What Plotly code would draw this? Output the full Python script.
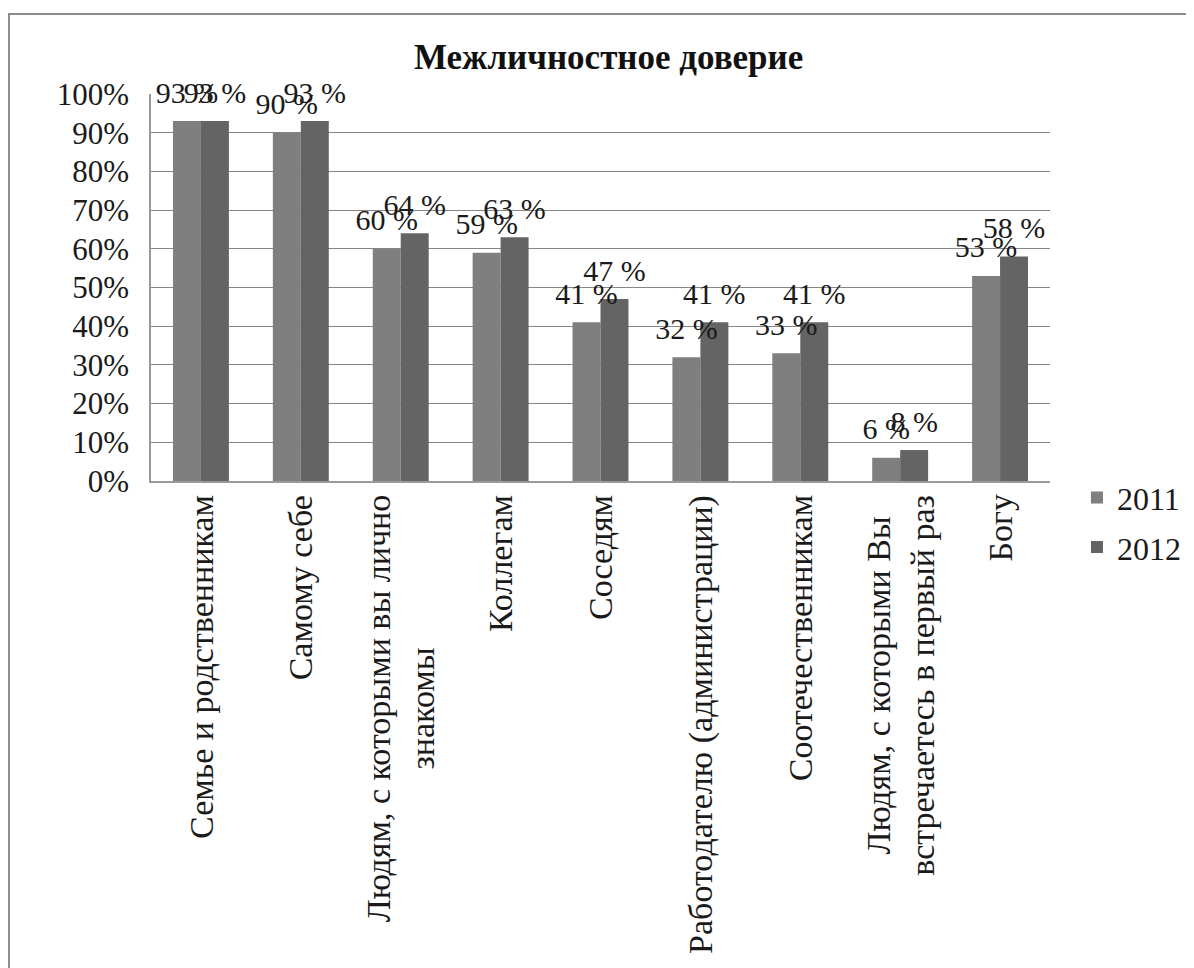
import plotly.graph_objects as go

categories = [
    "Семье и родственникам",
    "Самому себе",
    "Людям, с которыми вы лично<br>знакомы",
    "Коллегам",
    "Соседям",
    "Работодателю (администрации)",
    "Соотечественникам",
    "Людям, с которыми Вы<br>встречаетесь в первый раз",
    "Богу",
]
values_2011 = [93, 90, 60, 59, 41, 32, 33, 6, 53]
values_2012 = [93, 93, 64, 63, 47, 41, 41, 8, 58]
series_names = ["2011", "2012"]
y_ticks = [0, 10, 20, 30, 40, 50, 60, 70, 80, 90, 100]

FONT = "Liberation Serif"
colors = ["#7f7f7f", "#646464"]
GAP = 0.44

fig = go.Figure()
xs = list(range(len(categories)))
for name, vals, col in zip(series_names, [values_2011, values_2012], colors):
    fig.add_trace(go.Bar(
        name=name, x=xs, y=vals,
        marker=dict(color=col, line=dict(width=0)),
        legendgroup=name,
        offsetgroup="bar" + name, alignmentgroup="bars",
    ))
for name, vals in zip(series_names, [values_2011, values_2012]):
    fig.add_trace(go.Scatter(
        name=name + " labels", x=xs, y=vals,
        mode="markers+text",
        marker=dict(size=16, color="rgba(0,0,0,0)"),
        text=[f"{v} %" for v in vals],
        textposition="top center",
        textfont=dict(family=FONT, size=30, color="#1a1a1a"),
        cliponaxis=False, showlegend=False, hoverinfo="skip",
        offsetgroup="lab" + name, alignmentgroup="labels",
    ))

annotations = []
for i, cat in enumerate(categories):
    annotations.append(dict(
        x=i, y=0, xref="x", yref="y",
        text=cat, textangle=-90,
        xanchor="center", yanchor="top", yshift=-12,
        showarrow=False, align="center",
        font=dict(family=FONT, size=34, color="#1a1a1a"),
    ))

fig.update_layout(
    width=1194, height=968,
    margin=dict(l=143, r=152, t=86, b=495),
    paper_bgcolor="white", plot_bgcolor="white",
    barmode="group", bargap=GAP, bargroupgap=0,
    scattermode="group", scattergap=GAP,
    title=dict(text="<b>Межличностное доверие</b>", x=0.509, xref="paper", xanchor="center",
               y=1 - 49 / 968, yanchor="middle",
               font=dict(family=FONT, size=35, color="#111111")),
    legend=dict(x=1.03, xanchor="left", y=0.028, yanchor="top",
                font=dict(family=FONT, size=32, color="#1a1a1a"),
                tracegroupgap=5, bgcolor="rgba(0,0,0,0)"),
    annotations=annotations,
    shapes=[dict(type="rect", xref="paper", yref="paper",
                 x0=-0.158, x1=1.178, y0=-1.315, y1=1.207,
                 line=dict(color="#8c8c8c", width=2), layer="below")],
)
fig.update_xaxes(range=[-0.5, len(categories) - 0.5], showticklabels=False,
                 showline=True, linecolor="#9a9a9a", linewidth=1.5,
                 showgrid=False, zeroline=False, ticks="")
fig.update_yaxes(range=[0, 100], tickvals=y_ticks, ticktext=[f"{t}%" for t in y_ticks],
                 showline=True, linecolor="#9a9a9a", linewidth=1.5,
                 showgrid=True, gridcolor="#868686", gridwidth=1,
                 zeroline=False, ticks="", ticklabelstandoff=14,
                 tickfont=dict(family=FONT, size=31, color="#1a1a1a"))

fig.write_html("out.html")
